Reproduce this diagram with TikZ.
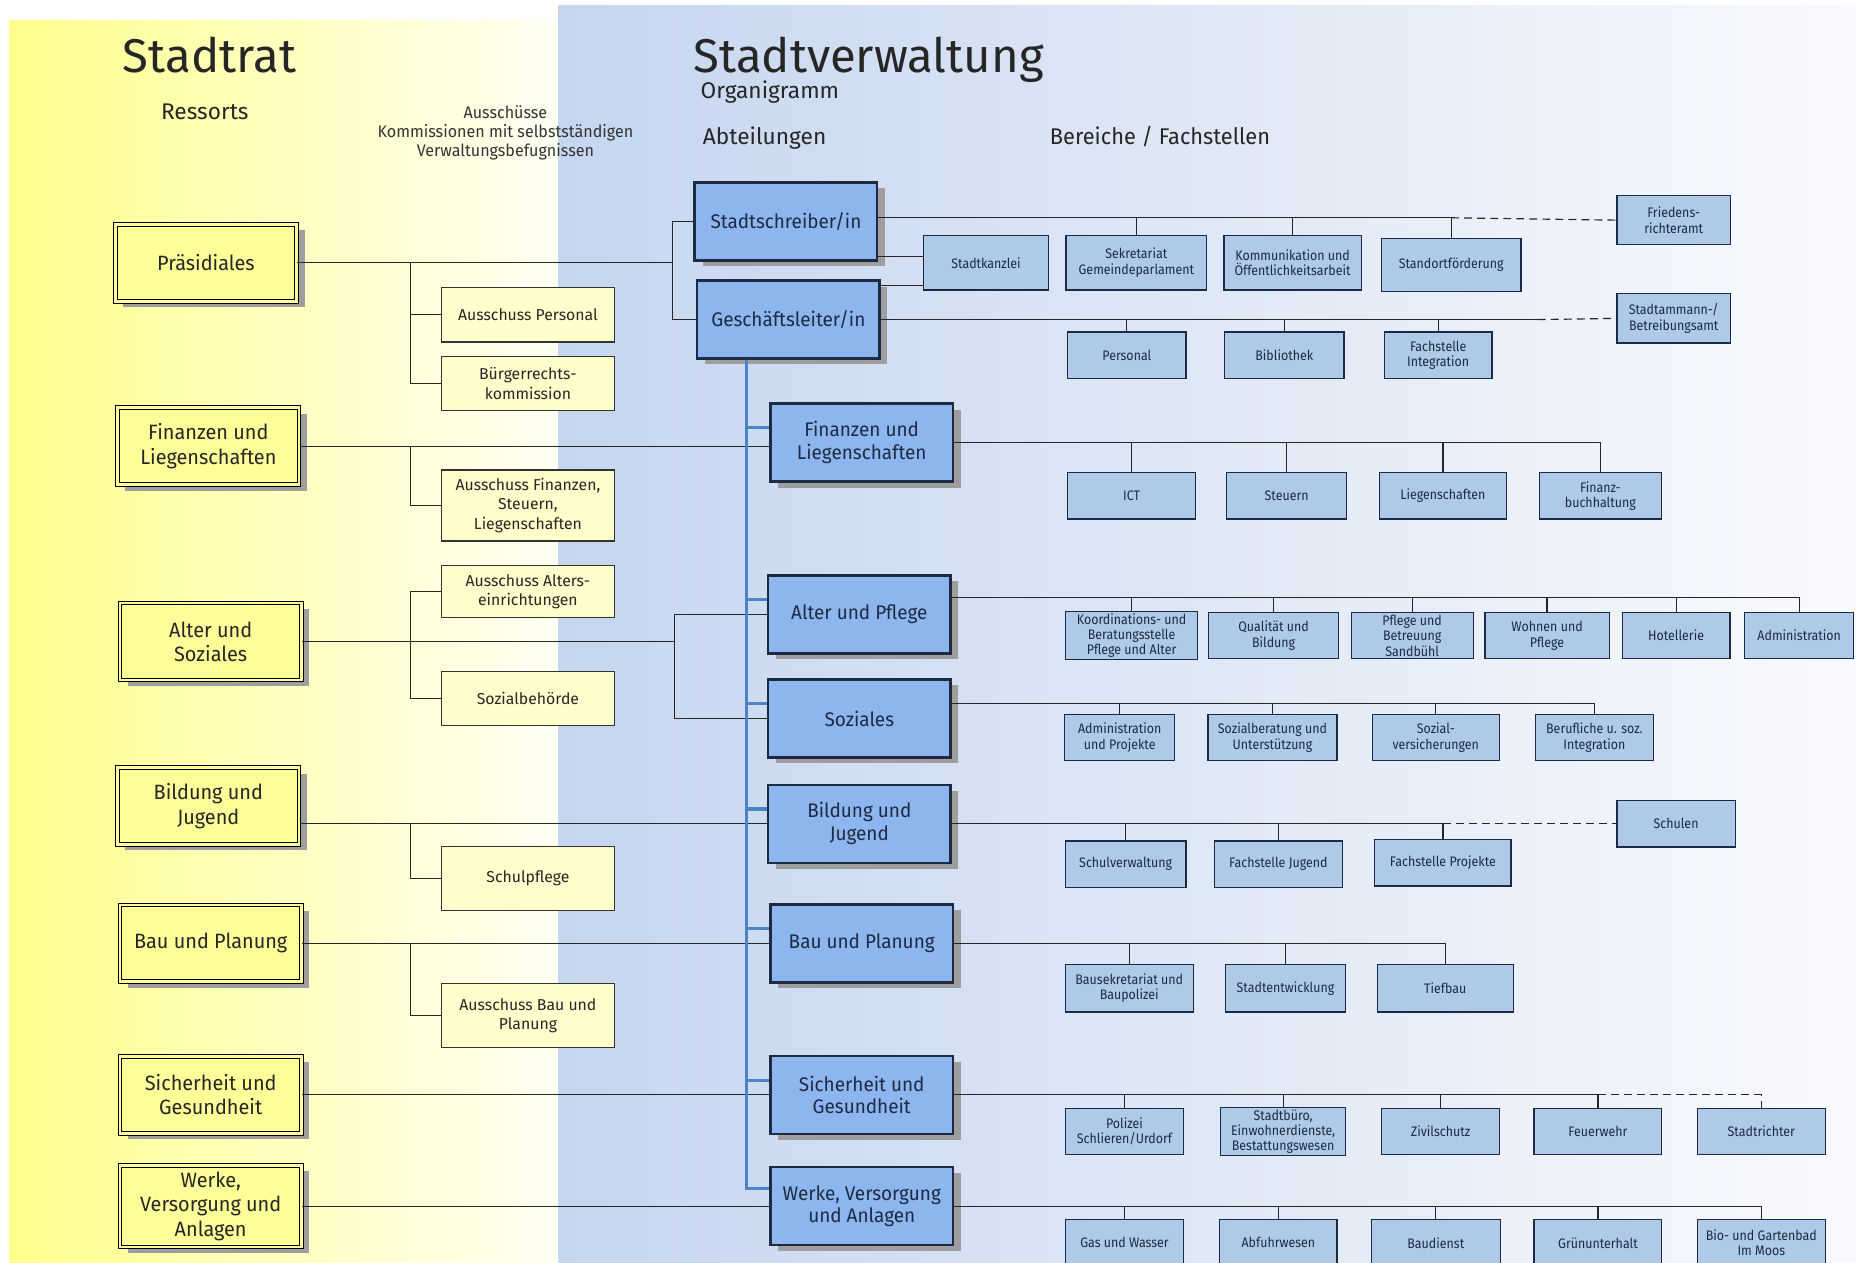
\documentclass[tikz,border=0pt]{standalone}
\usepackage{fontspec}
\setmainfont{Fira Sans}
\newfontfamily\schmal{Fira Sans}[FakeStretch=0.9]
\newfontfamily\halbschmal{Fira Sans}[FakeStretch=0.96]
\usetikzlibrary{shadows}
\definecolor{ressgelb}{HTML}{FFFF99}
\definecolor{ausgelb}{HTML}{FFFFCC}
\definecolor{abtblau}{HTML}{8DB6EE}
\definecolor{berblau}{HTML}{AFC9E8}
\definecolor{stammblau}{HTML}{4C82C8}
\definecolor{textblau}{HTML}{1D2A44}
\definecolor{hggelb}{HTML}{FFFF8C}
\definecolor{hggelbhell}{HTML}{FFFFF4}
\definecolor{hgblau}{HTML}{C5D6EF}
\definecolor{hgweiss}{HTML}{F9FAFD}
\tikzset{
  schatten/.style={drop shadow={shadow xshift=4pt, shadow yshift=-3pt, fill=black!38, opacity=1}},
  ressort/.style={draw=black, line width=0.5pt, double=ressgelb, double distance=1.4pt,
    fill=ressgelb, minimum width=92pt, minimum height=39pt, align=center,
    font=\halbschmal\fontsize{10.5}{12.3}\selectfont, text=black!85, schatten},
  ausschuss/.style={draw=black!80, line width=0.6pt, fill=ausgelb, minimum width=87.6pt,
    minimum height=#1*0.6pt, align=center, inner sep=1pt,
    font=\fontsize{8}{9.8}\selectfont, text=black!85},
  ausschuss/.default=46,
  abteilung/.style={draw=textblau, line width=1.3pt, fill=abtblau, minimum width=92.5pt,
    minimum height=39.5pt, align=center, font=\halbschmal\fontsize{10}{11.6}\selectfont,
    text=textblau, schatten},
  bereich/.style={draw=textblau, line width=0.6pt, fill=berblau, minimum width=#1*0.6pt,
    minimum height=23.4pt, align=center, inner sep=1pt,
    font=\schmal\fontsize{7}{7.8}\selectfont, text=textblau},
  bereich/.default=104,
  linie/.style={draw=black!85, line width=0.6pt},
  strich/.style={linie, dash pattern=on 4pt off 2.6pt},
  stammlinie/.style={draw=stammblau, line width=1.6pt},
  titel/.style={font=\fontsize{24}{28}\selectfont, text=black!85},
  kopf/.style={font=\fontsize{11.5}{13}\selectfont, text=black!85}
}
\begin{document}
\begin{tikzpicture}[x=0.6pt, y=-0.6pt]
  \useasboundingbox (0,0) rectangle (1568,1067);
  % Hintergrund
  \shade[left color=hggelb, right color=hggelbhell] (8,17) rectangle (472,1067);
  \shade[left color=hgblau, right color=hgweiss] (472,5) rectangle (1568,1067);

  % Titel
  \node[titel, anchor=base] (trat) at (177,61) {Stadtrat};
  \node[titel, anchor=base west] (tverw) at (580,61) {Stadtverwaltung};
  \node[kopf, anchor=base west] (organi) at (586,83) {Organigramm};
  \node[kopf, anchor=base] (ress) at (173,101) {Ressorts};
  \node[kopf, anchor=base west] (abt) at (588,122) {Abteilungen};
  \node[kopf, anchor=base, font=\halbschmal\fontsize{11.5}{13}\selectfont] (ber) at (980,122) {Bereiche / Fachstellen};
  \node[align=center, font=\halbschmal\fontsize{8.5}{9.6}\selectfont, text=black!80] (aus) at (427,112)
    {Ausschüsse\\Kommissionen mit selbstständigen\\Verwaltungsbefugnissen};

  % Ressorts
  \node[ressort] (praes) at (174,222) {Präsidiales};
  \node[ressort] (fin) at (176,377) {Finanzen und\\Liegenschaften};
  \node[ressort] (alt) at (178,542) {Alter und\\Soziales};
  \node[ressort] (bild) at (176,681) {Bildung und\\Jugend};
  \node[ressort] (bau) at (178,797) {Bau und Planung};
  \node[ressort] (sich) at (178,925) {Sicherheit und\\Gesundheit};
  \node[ressort] (werk) at (178,1019) {Werke,\\Versorgung und\\Anlagen};

  % Ausschuesse
  \node[ausschuss] (apers) at (446,266) {Ausschuss Personal};
  \node[ausschuss] (bkom) at (446,324) {Bürgerrechts-\\kommission};
  \node[ausschuss=60] (afin) at (446,427) {Ausschuss Finanzen,\\Steuern,\\Liegenschaften};
  \node[ausschuss=44] (aalt) at (446,500) {Ausschuss Alters-\\einrichtungen};
  \node[ausschuss] (sbeh) at (446,590) {Sozialbehörde};
  \node[ausschuss=54] (schulpf) at (446,742) {Schulpflege};
  \node[ausschuss=54] (abau) at (446,858) {Ausschuss Bau und\\Planung};

  % Abteilungen
  \node[abteilung] (sschr) at (664,187) {Stadtschreiber/in};
  \node[abteilung] (gl) at (666,270) {Geschäftsleiter/in};
  \node[abteilung] (finab) at (728,374) {Finanzen und\\Liegenschaften};
  \node[abteilung] (altpf) at (726,519) {Alter und Pflege};
  \node[abteilung] (soz) at (726,607) {Soziales};
  \node[abteilung] (bildab) at (726,696) {Bildung und\\Jugend};
  \node[abteilung] (bauab) at (728,797) {Bau und Planung};
  \node[abteilung] (sichab) at (728,925) {Sicherheit und\\Gesundheit};
  \node[abteilung] (werkab) at (728,1019) {Werke, Versorgung\\und Anlagen};

  % Bereiche / Fachstellen
  \node[bereich=105, minimum height=27.6pt] (kanzlei) at (833,222) {Stadtkanzlei};
  \node[bereich=119, minimum height=27.6pt] (sekr) at (960,222) {Sekretariat\\Gemeindeparlament};
  \node[bereich=116, minimum height=27.6pt] (komm) at (1092,222) {Kommunikation und\\Öffentlichkeitsarbeit};
  \node[bereich=118, minimum height=27pt] (stando) at (1226,224) {Standortförderung};
  \node[bereich=96, minimum height=25pt] (friedens) at (1414,186) {Friedens-\\richteramt};

  \node[bereich=100] (pers) at (952,300) {Personal};
  \node[bereich=101] (bibl) at (1085,300) {Bibliothek};
  \node[bereich=91] (integ) at (1215,300) {Fachstelle\\Integration};
  \node[bereich=96, minimum height=25pt] (stadtamm) at (1414,269) {Stadtammann-/\\Betreibungsamt};

  \node[bereich=108] (ict) at (956,419) {ICT};
  \node[bereich=101] (steu) at (1087,419) {Steuern};
  \node[bereich=107] (lieg) at (1219,419) {Liegenschaften};
  \node[bereich=103] (fbuch) at (1352,419) {Finanz-\\buchhaltung};

  \node[bereich=112] (koord) at (956,537) {Koordinations- und\\Beratungsstelle\\Pflege und Alter};
  \node[bereich=110] (qual) at (1076,537) {Qualität und\\Bildung};
  \node[bereich=103] (sandb) at (1193,537) {Pflege und\\Betreuung\\Sandbühl};
  \node[bereich=105] (wohn) at (1307,537) {Wohnen und\\Pflege};
  \node[bereich=91] (hotel) at (1416,537) {Hotellerie};
  \node[bereich=92] (admin) at (1520,537) {Administration};

  \node[bereich=93] (adpro) at (946,623) {Administration\\und Projekte};
  \node[bereich=109] (sberat) at (1075,623) {Sozialberatung und\\Unterstützung};
  \node[bereich=107] (svers) at (1213,623) {Sozial-\\versicherungen};
  \node[bereich=100] (beruf) at (1347,623) {Berufliche u. soz.\\Integration};

  \node[bereich=102] (schulv) at (951,730) {Schulverwaltung};
  \node[bereich=108] (fjug) at (1080,730) {Fachstelle Jugend};
  \node[bereich=115] (fproj) at (1219,729) {Fachstelle Projekte};
  \node[bereich=100] (schulen) at (1416,696) {Schulen};

  \node[bereich=108, minimum height=24pt] (bausek) at (954,835) {Bausekretariat und\\Baupolizei};
  \node[bereich=101, minimum height=24pt] (sentw) at (1086,835) {Stadtentwicklung};
  \node[bereich=115, minimum height=24pt] (tief) at (1221,835) {Tiefbau};

  \node[bereich=100] (poliz) at (950,956) {Polizei\\Schlieren/Urdorf};
  \node[bereich=106] (sbuero) at (1084,956) {Stadtbüro,\\Einwohnerdienste,\\Bestattungswesen};
  \node[bereich=100] (zivil) at (1217,956) {Zivilschutz};
  \node[bereich=108] (feuer) at (1350,956) {Feuerwehr};
  \node[bereich=108] (srichter) at (1488,956) {Stadtrichter};

  \node[bereich=100, minimum height=24pt] (gas) at (950,1050) {Gas und Wasser};
  \node[bereich=99, minimum height=24pt] (abfuhr) at (1080,1050) {Abfuhrwesen};
  \node[bereich=109, minimum height=24pt] (baud) at (1213,1050) {Baudienst};
  \node[bereich=108, minimum height=24pt] (gruen) at (1350,1050) {Grünunterhalt};
  \node[bereich=108, minimum height=24pt] (bioga) at (1488,1050) {Bio- und Gartenbad\\Im Moos};

  % Stadtrat -- Ausschuesse -- Abteilungen
  \coordinate (kp) at (568,222);
  \coordinate (ka) at (347,222);
  \coordinate (ks) at (570,542);
  \draw[linie] (praes.east) -- (kp);
  \draw[linie] (sschr.west) -| (kp) |- (gl.west);
  \draw[linie] (ka) |- (apers.west);
  \draw[linie] (ka) |- (bkom.west);
  \draw[linie] (fin.east) -- (fin.east -| finab.west);
  \draw[linie] (fin.east -| ka) |- (afin.west);
  \draw[linie] (alt.east) -- (ks);
  \draw[linie] (altpf.west) -| (ks) |- (soz.west);
  \draw[linie] (aalt.west) -| (ka |- alt.east) |- (sbeh.west);
  \draw[linie] (bildab.west -| bild.east) -- (bildab.west);
  \draw[linie] (bildab.west -| ka) |- (schulpf.west);
  \draw[linie] (bau.east) -- (bauab.west);
  \draw[linie] (bau.east -| ka) |- (abau.west);
  \draw[linie] (sich.east) -- (sichab.west);
  \draw[linie] (werk.east) -- (werkab.west);

  % blaue Linie
  \coordinate (st) at ([xshift=-21pt]gl.south);
  \draw[stammlinie] (st) |- ([yshift=9pt]werkab.west);
  \foreach \n in {finab,altpf,soz,bildab,bauab,sichab}
    \draw[stammlinie] ([yshift=7.5pt]\n.west) -- ([yshift=7.5pt]\n.west -| st);

  % Stadtschreiber/in
  \coordinate (ssl) at ([yshift=1.8pt]sschr.east);
  \draw[linie] (ssl) -- (ssl -| stando.north) -- (stando.north);
  \foreach \n in {sekr,komm}
    \draw[linie] (ssl -| \n.north) -- (\n.north);
  \draw[strich] (ssl -| stando.north) -- (friedens.west);
  \draw[linie] ([yshift=2.4pt]sschr.south east) -- ([yshift=2.4pt]sschr.south east -| kanzlei.west);
  \draw[linie] ([yshift=-3pt]gl.north east) -- ([yshift=-3pt]gl.north east -| kanzlei.west);

  % Geschaeftsleiter/in
  \draw[linie] (gl.east) -- ++(555,0) coordinate (gld);
  \foreach \n in {pers,bibl,integ}
    \draw[linie] (gl.east -| \n.north) -- (\n.north);
  \draw[strich] (gld) -- (stadtamm.west);

  % Finanzen und Liegenschaften
  \draw[linie] (finab.east) -- (finab.east -| fbuch.north) -- (fbuch.north);
  \foreach \n in {ict,steu,lieg}
    \draw[linie] (finab.east -| \n.north) -- (\n.north);

  % Alter und Pflege
  \coordinate (altl) at ([yshift=8.4pt]altpf.east);
  \draw[linie] (altl) -- (altl -| admin.north) -- (admin.north);
  \foreach \n in {koord,qual,sandb,wohn,hotel}
    \draw[linie] (altl -| \n.north) -- (\n.north);

  % Soziales
  \coordinate (sozl) at ([yshift=7.8pt]soz.east);
  \draw[linie] (sozl) -- (sozl -| beruf.north) -- (beruf.north);
  \foreach \n in {adpro,sberat,svers}
    \draw[linie] (sozl -| \n.north) -- (\n.north);

  % Bildung und Jugend
  \draw[linie] (bildab.east) -- (bildab.east -| fproj.north) -- (fproj.north);
  \foreach \n in {schulv,fjug}
    \draw[linie] (bildab.east -| \n.north) -- (\n.north);
  \draw[strich] (bildab.east -| fproj.north) -- (schulen.west);

  % Bau und Planung
  \draw[linie] (bauab.east) -- (bauab.east -| tief.north) -- (tief.north);
  \foreach \n in {bausek,sentw}
    \draw[linie] (bauab.east -| \n.north) -- (\n.north);

  % Sicherheit und Gesundheit
  \draw[linie] (sichab.east) -- (sichab.east -| feuer.north) -- (feuer.north);
  \foreach \n in {poliz,sbuero,zivil}
    \draw[linie] (sichab.east -| \n.north) -- (\n.north);
  \draw[strich] (sichab.east -| feuer.north) -| (srichter.north);

  % Werke, Versorgung und Anlagen
  \draw[linie] (werkab.east) -- (werkab.east -| bioga.north) -- (bioga.north);
  \foreach \n in {gas,abfuhr,baud,gruen}
    \draw[linie] (werkab.east -| \n.north) -- (\n.north);
\end{tikzpicture}
\end{document}
